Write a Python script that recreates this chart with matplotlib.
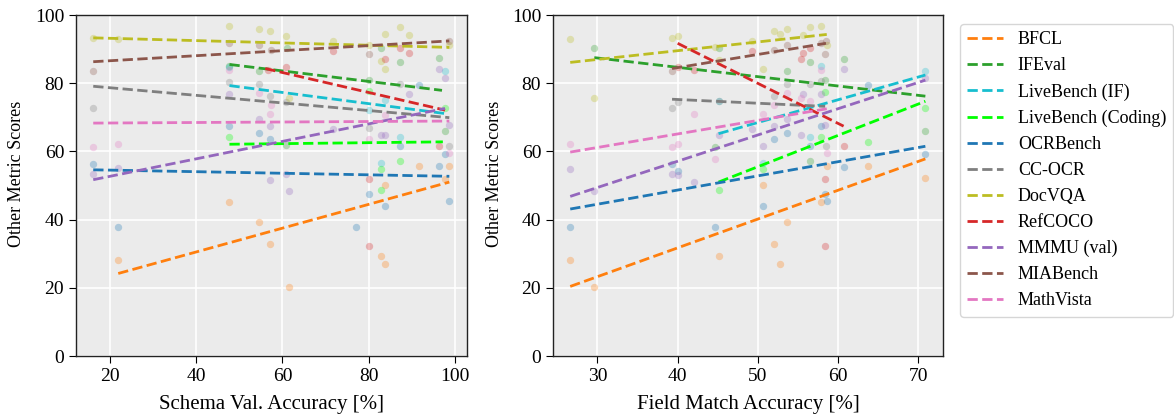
import matplotlib
matplotlib.use("Agg")
import matplotlib.pyplot as plt

plt.rcParams["font.family"] = ["Liberation Serif", "DejaVu Serif"]

# *******************
# Benchmarks and colours
# *******************
BENCHMARKS = [
    "BFCL", "IFEval", "LiveBench (IF)", "LiveBench (Coding)", "OCRBench",
    "CC-OCR", "DocVQA", "RefCOCO", "MMMU (val)", "MIABench", "MathVista",
]
COLORS = [
    "tab:orange", "tab:green", "tab:cyan", "lime", "tab:blue",
    "tab:gray", "tab:olive", "tab:red", "tab:purple", "tab:brown", "tab:pink",
]

# *******************
# Left panel: (schema val. accuracy, score) per benchmark
# *******************
BFCL_SCHEMA = [(21.9, 28.1), (47.7, 45.3), (54.6, 39.4), (57.0, 32.8), (61.4, 20.1),
               (82.9, 29.4), (83.7, 50.0), (83.7, 27.1), (91.6, 55.7), (97.7, 52.0), (98.7, 55.7)]
IFEVAL_SCHEMA = [(47.7, 85.0), (54.6, 83.6), (61.0, 90.2), (80.0, 80.9), (82.9, 90.2),
                 (87.3, 86.3), (96.3, 87.3), (97.7, 65.9), (60.8, 62.0)]
LBIF_SCHEMA = [(47.7, 84.8), (80.0, 72.1), (82.9, 56.7), (83.7, 75.0), (87.3, 64.2), (97.7, 83.5)]
LBCODE_SCHEMA = [(47.7, 64.2), (80.0, 77.6), (82.9, 54.9), (82.9, 48.7), (87.3, 57.2), (97.7, 72.7)]
OCR_SCHEMA = [(16.1, 56.2), (21.9, 37.9), (47.7, 67.4), (54.6, 65.4), (57.0, 63.7), (77.1, 37.9),
              (80.0, 47.4), (83.7, 43.9), (87.3, 61.5), (91.6, 79.6), (96.3, 55.7), (97.7, 59.1),
              (98.7, 45.5)]
CCOCR_SCHEMA = [(16.1, 72.7), (47.7, 80.3), (54.6, 79.9), (57.1, 76.2), (60.8, 74.5),
                (80.0, 66.9), (87.3, 79.9), (98.7, 61.6)]
DOCVQA_SCHEMA = [(16.1, 93.3), (21.9, 93.1), (47.7, 96.9), (54.6, 96.0), (57.0, 95.3),
                 (60.8, 93.9), (61.5, 75.7), (71.8, 92.4), (80.0, 91.2), (82.9, 86.5),
                 (83.7, 94.3), (83.7, 84.1), (87.3, 96.6), (89.3, 94.1), (98.7, 91.2)]
REFCOCO_SCHEMA = [(56.7, 83.8), (60.8, 84.8), (71.8, 89.4), (80.0, 51.9), (80.0, 32.4),
                  (83.7, 87.1), (87.3, 90.2), (89.3, 89.0), (96.3, 61.6)]
MMMU_SCHEMA = [(16.1, 53.3), (21.9, 55.1), (47.7, 76.8), (54.6, 69.6), (57.0, 67.4),
               (57.0, 51.5), (60.8, 53.4), (61.4, 48.5), (71.8, 66.7), (82.9, 64.7),
               (83.7, 64.7), (89.3, 76.8), (96.3, 84.1), (97.7, 81.6), (98.7, 67.6)]
MIA_SCHEMA = [(16.1, 83.5), (47.7, 91.9), (54.6, 91.1), (57.3, 89.7), (80.0, 88.7), (98.7, 92.4)]
MATHV_SCHEMA = [(16.1, 61.3), (21.9, 62.2), (47.7, 83.8), (54.6, 77.2), (57.0, 71.1),
                (57.3, 73.5), (80.0, 63.7), (83.7, 70.6), (98.7, 59.5)]

# *******************
# Right panel: (field match accuracy, score) per benchmark
# *******************
BFCL_FIELD = [(26.6, 28.1), (29.6, 20.1), (45.1, 29.4), (50.7, 50.0), (52.0, 32.8), (52.8, 27.1),
              (53.6, 39.4), (57.9, 45.3), (58.6, 55.7), (63.7, 55.7), (70.9, 52.1)]
IFEVAL_FIELD = [(29.6, 90.2), (45.1, 90.2), (44.6, 61.3), (53.6, 83.6), (56.5, 86.3),
                (56.5, 57.2), (58.4, 80.9), (60.7, 87.2), (70.9, 65.9)]
LBIF_FIELD = [(45.1, 74.8), (50.7, 56.7), (56.5, 64.2), (57.9, 85.1), (70.9, 83.5)]
LBCODE_FIELD = [(45.1, 48.7), (50.7, 54.9), (57.9, 64.2), (58.4, 77.4), (63.7, 62.7), (70.9, 72.7)]
OCR_FIELD = [(26.6, 37.9), (39.3, 56.4), (40.0, 54.2), (44.6, 37.9), (50.7, 43.9), (52.0, 63.7),
             (53.6, 65.4), (56.5, 61.5), (57.9, 67.4), (58.4, 47.4), (58.6, 45.5), (60.7, 55.4),
             (63.7, 79.6), (70.9, 59.1)]
CCOCR_FIELD = [(39.3, 72.8), (40.0, 74.5), (52.0, 76.2), (53.6, 79.9), (56.5, 79.9),
               (57.9, 80.5), (58.5, 61.6), (45.1, 74.8)]
DOCVQA_FIELD = [(26.6, 93.1), (29.6, 75.7), (39.3, 93.3), (40.0, 93.9), (44.6, 90.7),
                (45.1, 86.8), (49.3, 92.4), (50.7, 84.1), (52.0, 95.4), (52.8, 94.3),
                (53.6, 96.0), (55.6, 94.1), (56.5, 96.6), (57.9, 96.9), (58.6, 91.2)]
REFCOCO_FIELD = [(40.0, 84.8), (42.0, 84.0), (49.3, 89.5), (55.4, 87.1), (55.6, 89.0),
                 (56.5, 90.2), (58.4, 52.0), (58.4, 32.4), (60.7, 61.6)]
MMMU_FIELD = [(26.6, 54.9), (29.6, 48.5), (39.3, 53.3), (40.0, 53.0), (42.0, 50.9),
              (45.1, 64.7), (49.3, 66.5), (50.7, 61.6), (52.0, 67.4), (53.6, 69.6),
              (55.4, 64.7), (55.6, 76.8), (57.9, 76.8), (58.4, 67.6), (60.7, 84.1), (70.9, 81.6)]
MIA_FIELD = [(39.3, 83.5), (52.0, 89.7), (53.6, 91.2), (57.9, 91.7), (58.5, 92.4), (58.4, 88.5)]
MATHV_FIELD = [(26.6, 62.2), (39.3, 61.3), (40.0, 62.2), (42.0, 71.1), (44.6, 57.8),
               (50.7, 71.1), (52.0, 73.7), (53.6, 77.2), (55.4, 75.7), (56.5, 74.8),
               (57.9, 83.8), (58.6, 59.5)]

# *******************
# Trend lines: (x0, y0, x1, y1)
# *******************
TREND_SCHEMA = [
    (21.9, 24.2, 98.7, 51.0), (47.7, 85.5, 97.0, 77.9), (47.7, 79.3, 97.7, 71.1),
    (47.7, 62.1, 97.2, 62.8), (16.1, 54.6, 98.7, 52.7), (16.1, 79.1, 98.7, 69.9),
    (16.1, 93.3, 98.7, 90.5), (56.0, 84.3, 97.7, 72.1), (16.1, 51.7, 97.7, 72.6),
    (16.1, 86.3, 98.7, 92.4), (16.1, 68.3, 98.7, 68.9),
]
TREND_FIELD = [
    (26.6, 20.4, 70.9, 57.8), (29.6, 87.5, 70.9, 76.2), (45.1, 65.2, 70.9, 82.4),
    (45.1, 51.0, 70.9, 74.7), (26.6, 43.1, 70.9, 61.5), (39.3, 75.3, 58.4, 73.2),
    (26.6, 86.1, 58.6, 94.3), (40.0, 91.7, 60.7, 67.4), (26.6, 46.8, 70.9, 80.9),
    (39.3, 84.3, 58.5, 91.7), (26.6, 59.8, 58.6, 72.5),
]

POINTS_SCHEMA = [BFCL_SCHEMA, IFEVAL_SCHEMA, LBIF_SCHEMA, LBCODE_SCHEMA, OCR_SCHEMA,
                 CCOCR_SCHEMA, DOCVQA_SCHEMA, REFCOCO_SCHEMA, MMMU_SCHEMA, MIA_SCHEMA, MATHV_SCHEMA]
POINTS_FIELD = [BFCL_FIELD, IFEVAL_FIELD, LBIF_FIELD, LBCODE_FIELD, OCR_FIELD,
                CCOCR_FIELD, DOCVQA_FIELD, REFCOCO_FIELD, MMMU_FIELD, MIA_FIELD, MATHV_FIELD]


def draw_panel(ax, points, trends, xlabel, xlim, xticks, label_x):
    ax.set_facecolor("#EBEBEB")
    ax.grid(True, color="white", linewidth=1.2)
    ax.set_axisbelow(True)
    for pts, color in zip(points, COLORS):
        xs = [p[0] for p in pts]
        ys = [p[1] for p in pts]
        ax.scatter(xs, ys, s=28, color=color, alpha=0.3, linewidths=0, zorder=2)
    for (x0, y0, x1, y1), color, label in zip(trends, COLORS, BENCHMARKS):
        ax.plot([x0, x1], [y0, y1], "--", color=color, linewidth=2, label=label, zorder=3)
    ax.set_xlim(xlim)
    ax.set_ylim(0, 100)
    ax.set_xticks(xticks)
    ax.set_yticks([0, 20, 40, 60, 80, 100])
    ax.tick_params(labelsize=14, length=5)
    ax.set_xlabel(xlabel, fontsize=15, labelpad=7)
    ax.set_ylabel("Other Metric Scores", fontsize=13)
    ax.yaxis.set_label_coords(label_x, 0.535)
    for side in ax.spines.values():
        side.set_color("#222222")
        side.set_linewidth(1)


fig = plt.figure(figsize=(11.74, 4.15), dpi=100)
ax1 = fig.add_axes([76 / 1174, 59 / 415, 391 / 1174, 341 / 415])
ax2 = fig.add_axes([553 / 1174, 59 / 415, 390 / 1174, 341 / 415])

draw_panel(ax1, POINTS_SCHEMA, TREND_SCHEMA, "Schema Val. Accuracy [%]",
           (12.1, 102.8), [20, 40, 60, 80, 100], -0.130)
draw_panel(ax2, POINTS_FIELD, TREND_FIELD, "Field Match Accuracy [%]",
           (24.45, 73.1), [30, 40, 50, 60, 70], -0.128)

handles, labels = ax1.get_legend_handles_labels()
fig.legend(handles, labels, loc="upper left", bbox_to_anchor=(960 / 1174, 1 - 24 / 415),
           fontsize=13, frameon=True, edgecolor="#CCCCCC", fancybox=True,
           handlelength=2.0, labelspacing=0.5, borderaxespad=0)

fig.savefig("out.png", dpi=100)
